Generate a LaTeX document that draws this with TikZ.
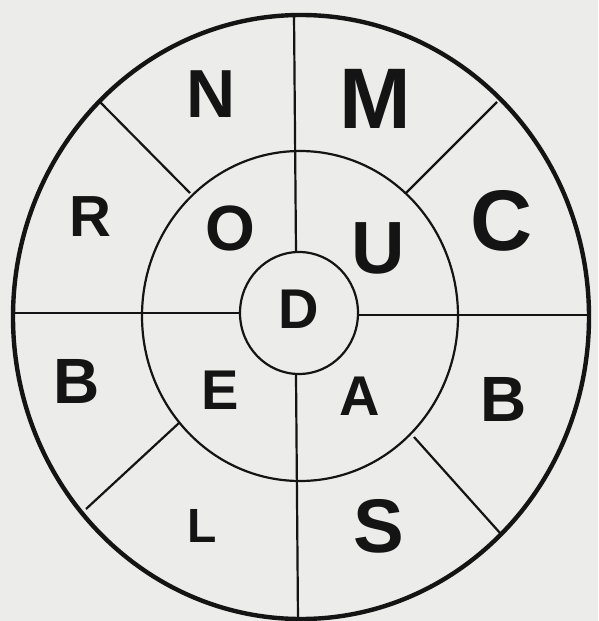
\documentclass[tikz,border=0pt]{standalone}
\usepackage{fontspec}
\setmainfont{Liberation Sans}
\definecolor{paper}{HTML}{ECECEA}
\definecolor{ink}{HTML}{141414}
\tikzset{
  thickring/.style={draw=ink, line width=4.4pt},
  thinline/.style={draw=ink, line width=2.2pt},
  letter/.style={text=ink, inner sep=0pt, font=\bfseries},
}
\newcommand{\lt}[2]{\fontsize{#1}{#1}\selectfont #2}
\begin{document}
\begin{tikzpicture}[x=1pt,y=-1pt]
\fill[paper] (0,0) rectangle (598,621);
\useasboundingbox (0,0) rectangle (598,621);
% rings
\draw[thinline] (299,313) ellipse [x radius=59, y radius=61];
\draw[thinline] (300,316) ellipse [x radius=158, y radius=165];
\draw[thickring] (301,317) ellipse [x radius=288, y radius=302];
% spokes
\coordinate (vt) at (294,14);
\coordinate (vi) at (296,252);
\coordinate (vj) at (296,375);
\coordinate (vb) at (298,620);
\coordinate (hl) at (13,313);
\coordinate (hi) at (240,313);
\coordinate (hj) at (358,315);
\coordinate (hr) at (589,315);
\draw[thinline] (vt) -- (vi);
\draw[thinline] (vj) -- (vb);
\draw[thinline] (hl) -- (hi);
\draw[thinline] (hj) -- (hr);
\coordinate (d1a) at (100,102); \coordinate (d1b) at (190,193);
\coordinate (d2a) at (497,102); \coordinate (d2b) at (406,193);
\coordinate (d3a) at (86,509);  \coordinate (d3b) at (179,423);
\coordinate (d4a) at (500,533); \coordinate (d4b) at (414,437);
\draw[thinline] (d1a) -- (d1b);
\draw[thinline] (d2a) -- (d2b);
\draw[thinline] (d3a) -- (d3b);
\draw[thinline] (d4a) -- (d4b);
% letters (outer ring)
\node[letter] (N)  at (211,94)  {\lt{68}{N}};
\node[letter] (M)  at (375,99)  {\lt{86}{M}};
\node[letter] (R)  at (90,217)  {\lt{58}{R}};
\node[letter] (C)  at (502,221) {\lt{86}{C}};
\node[letter] (B1) at (77,381)  {\lt{64}{B}};
\node[letter] (B2) at (504,399) {\lt{64}{B}};
\node[letter] (L)  at (202,526) {\lt{48}{L}};
\node[letter] (S)  at (379,526) {\lt{76}{S}};
% letters (middle ring)
\node[letter] (O)  at (230,228) {\lt{64}{O}};
\node[letter] (U)  at (378,248) {\lt{74}{U}};
\node[letter] (E)  at (220,390) {\lt{56}{E}};
\node[letter] (A)  at (360,396) {\lt{56}{A}};
% centre
\node[letter] (D)  at (299,309) {\lt{56}{D}};
\end{tikzpicture}
\end{document}
